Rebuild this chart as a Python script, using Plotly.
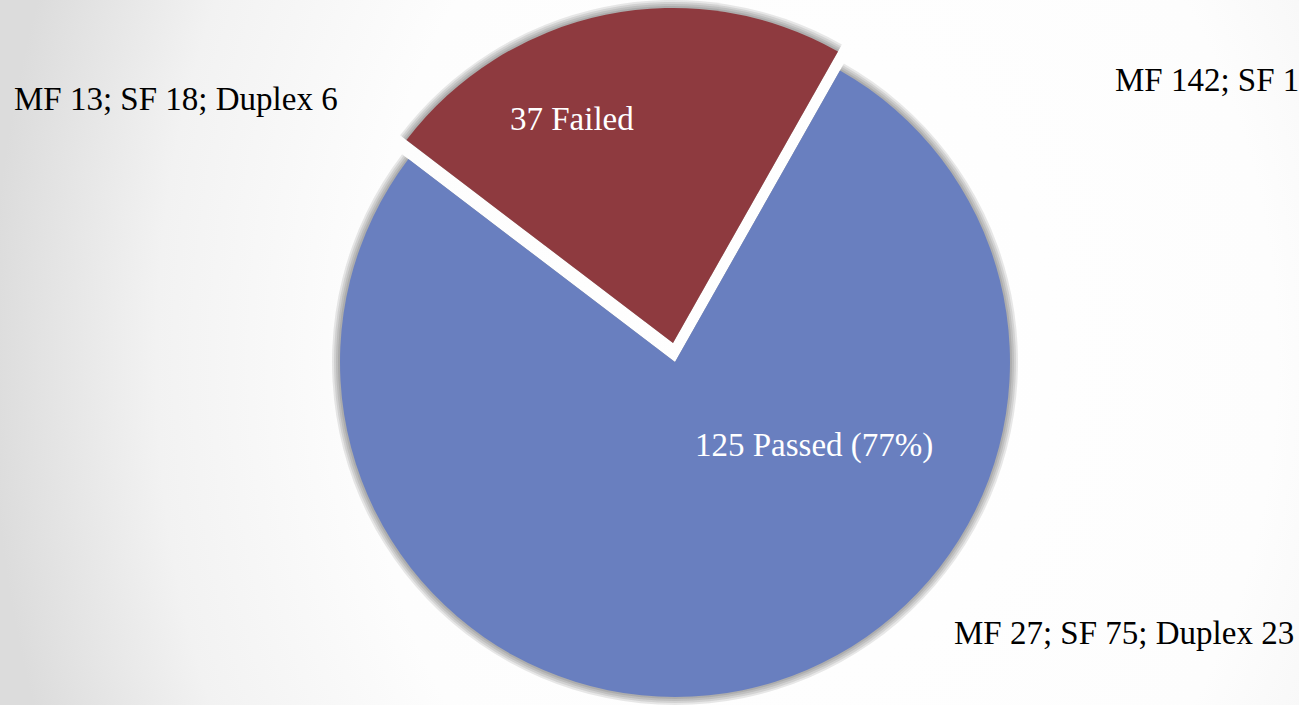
import base64
import plotly.graph_objects as go

# ---- data ----
labels = ["Passed", "Failed"]
values = [125, 37]
slice_text = ["125 Passed (77%)", "37 Failed"]
detail_text = ["MF 27; SF 75; Duplex 23", "MF 13; SF 18; Duplex 6", "MF 142; SF 1"]

# ---- styling ----
W, H = 1299, 705
BLUE = "#697fbf"
RED = "#8e3a3f"
CLEAR = "rgba(0,0,0,0)"
FONT = "Liberation Serif, Times New Roman, serif"
FS = 33

def dom(cx, cy, r):
    return dict(x=[(cx - r) / W, (cx + r) / W], y=[1 - (cy + r) / H, 1 - (cy - r) / H])

R = 335
blue_c = (675, 362)
red_c = (673, 343)
ROT = 29.5

fig = go.Figure()

def pie(center, r, colors):
    fig.add_trace(go.Pie(
        labels=labels, values=values, sort=False, direction="clockwise",
        rotation=ROT, domain=dom(center[0], center[1], r),
        marker=dict(colors=colors, line=dict(width=0)),
        textinfo="none", hoverinfo="skip", showlegend=False,
    ))

# soft shadows + slices
for d in (8, 6, 4, 2):
    pie(blue_c, R + d, ["rgba(0,0,0,0.09)", CLEAR])
pie(blue_c, R, [BLUE, CLEAR])
for d in (8, 6, 4, 2):
    pie(red_c, R + d, [CLEAR, "rgba(0,0,0,0.09)"])
pie(red_c, R, [CLEAR, RED])

# background gradient
svg = f'''<svg xmlns="http://www.w3.org/2000/svg" width="{W}" height="{H}">
<defs><radialGradient id="g" cx="820" cy="360" r="830" gradientUnits="userSpaceOnUse"
 gradientTransform="translate(820 360) scale(1 1.3) translate(-820 -360)">
<stop offset="0" stop-color="#ffffff"/><stop offset="0.55" stop-color="#fdfdfd"/>
<stop offset="0.8" stop-color="#f2f2f2"/><stop offset="1" stop-color="#dcdcdc"/></radialGradient></defs>
<rect width="{W}" height="{H}" fill="url(#g)"/></svg>'''
src = "data:image/svg+xml;base64," + base64.b64encode(svg.encode()).decode()

def ann(text, x, y, color):
    return dict(text=text, x=x / W, y=1 - y / H, xref="paper", yref="paper",
                xanchor="left", yanchor="middle", showarrow=False,
                font=dict(family=FONT, size=FS, color=color))

fig.update_layout(
    width=W, height=H, margin=dict(l=0, r=0, t=0, b=0),
    paper_bgcolor="white", plot_bgcolor="white",
    images=[dict(source=src, xref="paper", yref="paper", x=0, y=1, sizex=1, sizey=1,
                 xanchor="left", yanchor="top", sizing="stretch", layer="below")],
    annotations=[
        ann(slice_text[0], 693, 445, "white"),
        ann(slice_text[1], 508, 119, "white"),
        ann(detail_text[0], 952, 633, "black"),
        ann(detail_text[1], 12, 99, "black"),
        ann(detail_text[2], 1113, 80, "black"),
    ],
)

fig.write_html("out.html", config={"displayModeBar": False},
               post_script="document.body.style.margin='0';document.body.style.overflow='hidden';")
